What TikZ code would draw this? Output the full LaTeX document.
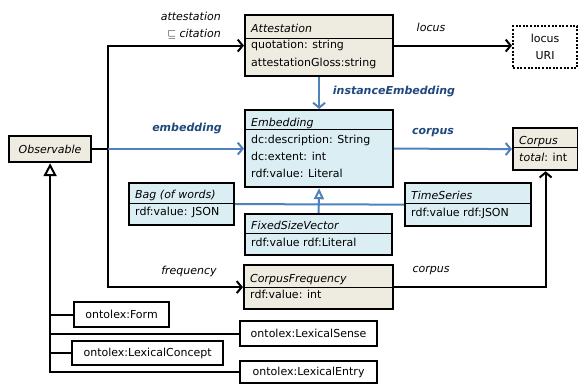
\documentclass[tikz,border=0pt]{standalone}
\usepackage{fontspec}
\setmainfont{DejaVu Sans}
\usepackage{amssymb}
\usetikzlibrary{arrows.meta}

\definecolor{umltan}{HTML}{EEECE1}
\definecolor{umlblue}{HTML}{DBEEF4}
\definecolor{umlline}{HTML}{4F81BD}
\definecolor{umltext}{HTML}{1F497D}

\newcommand\umlfont{\fontsize{11}{17.5}\selectfont}

\tikzset{
  cls/.style={draw, line width=2.2pt, anchor=north west, inner sep=0pt},
  tanbox/.style={cls, fill=umltan},
  bluebox/.style={cls, fill=umlblue},
  plainbox/.style={cls, fill=white, font=\umlfont},
  cname/.style={anchor=base west, inner sep=0pt, font=\umlfont\itshape},
  attr/.style={anchor=base west, inner sep=0pt, font=\umlfont},
  divline/.style={line width=0.8pt},
  lbl/.style={inner sep=0pt, font=\umlfont\itshape},
  blbl/.style={inner sep=0pt, font=\umlfont\bfseries\itshape, text=umltext},
  link/.style={line width=2pt},
  blink/.style={link, draw=umlline},
  assoc/.style={link, -{Straight Barb[length=5pt,width=12pt]}},
  bassoc/.style={assoc, draw=umlline},
  gen/.style={link, -{Triangle[open,length=13pt,width=13pt]}},
  bgen/.style={blink, -{Triangle[open,length=11pt,width=10pt]}}
}

\begin{document}
\begin{tikzpicture}[x=1pt, y=-1pt]
  \useasboundingbox (0,0) rectangle (578,383);

  % classes
  \node[tanbox, minimum width=148pt, minimum height=61pt] (att) at (244,14) {};
  \node[cname] (att-t) at ([shift={(7,18)}]att.north west) {Attestation};
  \draw[divline] ([shift={(0,24)}]att.north west) -- ([shift={(0,24)}]att.north east);
  \node[attr] (att-a1) at ([shift={(7,34)}]att.north west) {quotation: string};
  \node[attr] (att-a2) at ([shift={(7,52)}]att.north west) {attestationGloss:string};

  \node[bluebox, minimum width=148pt, minimum height=77pt] (emb) at (244,109) {};
  \node[cname] (emb-t) at ([shift={(7,17)}]emb.north west) {Embedding};
  \draw[divline] ([shift={(0,20)}]emb.north west) -- ([shift={(0,20)}]emb.north east);
  \node[attr] (emb-a1) at ([shift={(7,34)}]emb.north west) {dc:description: String};
  \node[attr] (emb-a2) at ([shift={(7,51.5)}]emb.north west) {dc:extent: int};
  \node[attr] (emb-a3) at ([shift={(7,68)}]emb.north west) {rdf:value: Literal};

  \node[tanbox, minimum width=82pt, minimum height=26pt, font=\umlfont\itshape] (obs) at (8,135) {Observable};

  \node[bluebox, minimum width=105pt, minimum height=42pt] (bag) at (128,182) {};
  \node[cname] (bag-t) at ([shift={(7,16)}]bag.north west) {Bag (of words)};
  \draw[divline] ([shift={(0,21)}]bag.north west) -- ([shift={(0,21)}]bag.north east);
  \node[attr] (bag-a1) at ([shift={(7,33)}]bag.north west) {rdf:value: JSON};

  \node[bluebox, minimum width=147pt, minimum height=41pt] (fsv) at (244,213) {};
  \node[cname] (fsv-t) at ([shift={(7,16)}]fsv.north west) {FixedSizeVector};
  \draw[divline] ([shift={(0,20)}]fsv.north west) -- ([shift={(0,20)}]fsv.north east);
  \node[attr] (fsv-a1) at ([shift={(7,33)}]fsv.north west) {rdf:value rdf:Literal};

  \node[bluebox, minimum width=126pt, minimum height=43pt] (ts) at (404,182) {};
  \node[cname] (ts-t) at ([shift={(7,17)}]ts.north west) {TimeSeries};
  \draw[divline] ([shift={(0,21)}]ts.north west) -- ([shift={(0,21)}]ts.north east);
  \node[attr] (ts-a1) at ([shift={(7,34)}]ts.north west) {rdf:value rdf:JSON};

  \node[tanbox, minimum width=65pt, minimum height=42pt] (corp) at (512,127) {};
  \node[cname] (corp-t) at ([shift={(7,17)}]corp.north west) {Corpus};
  \draw[divline] ([shift={(0,20)}]corp.north west) -- ([shift={(0,20)}]corp.north east);
  \node[attr] (corp-a1) at ([shift={(7,34)}]corp.north west) {\textit{total}: int};

  \node[tanbox, minimum width=149pt, minimum height=44pt] (cf) at (243,264) {};
  \node[cname] (cf-t) at ([shift={(7,18)}]cf.north west) {CorpusFrequency};
  \draw[divline] ([shift={(0,23)}]cf.north west) -- ([shift={(0,23)}]cf.north east);
  \node[attr] (cf-a1) at ([shift={(7,34)}]cf.north west) {rdf:value: int};

  \node[plainbox, minimum width=64pt, minimum height=42pt, align=center,
        dash pattern=on 2pt off 1.6pt] (locus) at (512,25) {locus\\URI};

  \node[plainbox, minimum width=95pt, minimum height=25pt] (form) at (73,301) {ontolex:Form};
  \node[plainbox, minimum width=137pt, minimum height=25pt] (sense) at (239,320) {ontolex:LexicalSense};
  \node[plainbox, minimum width=151pt, minimum height=24pt] (concept) at (71,340) {ontolex:LexicalConcept};
  \node[plainbox, minimum width=137pt, minimum height=22pt] (entry) at (239,360) {ontolex:LexicalEntry};

  % connectors
  \coordinate (bus) at (108,148);
  \draw[link] (obs.east) -- (obs.east -| bus);
  \draw[assoc] (obs.east -| bus) |- (att.west);
  \draw[assoc] (obs.east -| bus) |- (cf.west);
  \draw[bassoc] (emb.west -| bus) -- (emb.west);
  \draw[bassoc] (att.south) -- (emb.north);
  \draw[bassoc] (emb.east) -- (corp.west);
  \draw[assoc] (att.east) -- (att.east -| locus.west);
  \draw[assoc] (cf.east) -| (corp.south);
  \draw[blink] (bag.east) -- (ts.west);
  \draw[bgen] (fsv.north) -- (emb.south);

  \draw[link] (form.west) -- (form.west -| obs.south);
  \draw[link] (sense.west) -- (sense.west -| obs.south);
  \draw[link] (concept.west) -- (concept.west -| obs.south);
  \draw[gen] (entry.west) -| (obs.south);

  % labels
  \node[lbl, anchor=east] (l-att1) at (221,16) {attestation};
  \node[lbl, anchor=east] (l-att2) at (221,34) {$\sqsubseteq$ citation};
  \node[blbl] (l-emb) at (187,129) {embedding};
  \node[blbl] (l-inst) at (394,92) {instanceEmbedding};
  \node[blbl] (l-corp) at (433,133) {corpus};
  \node[lbl] (l-loc) at (431,27) {locus};
  \node[lbl] (l-freq) at (189,271) {frequency};
  \node[lbl] (l-corp2) at (431,271) {corpus};
\end{tikzpicture}
\end{document}
